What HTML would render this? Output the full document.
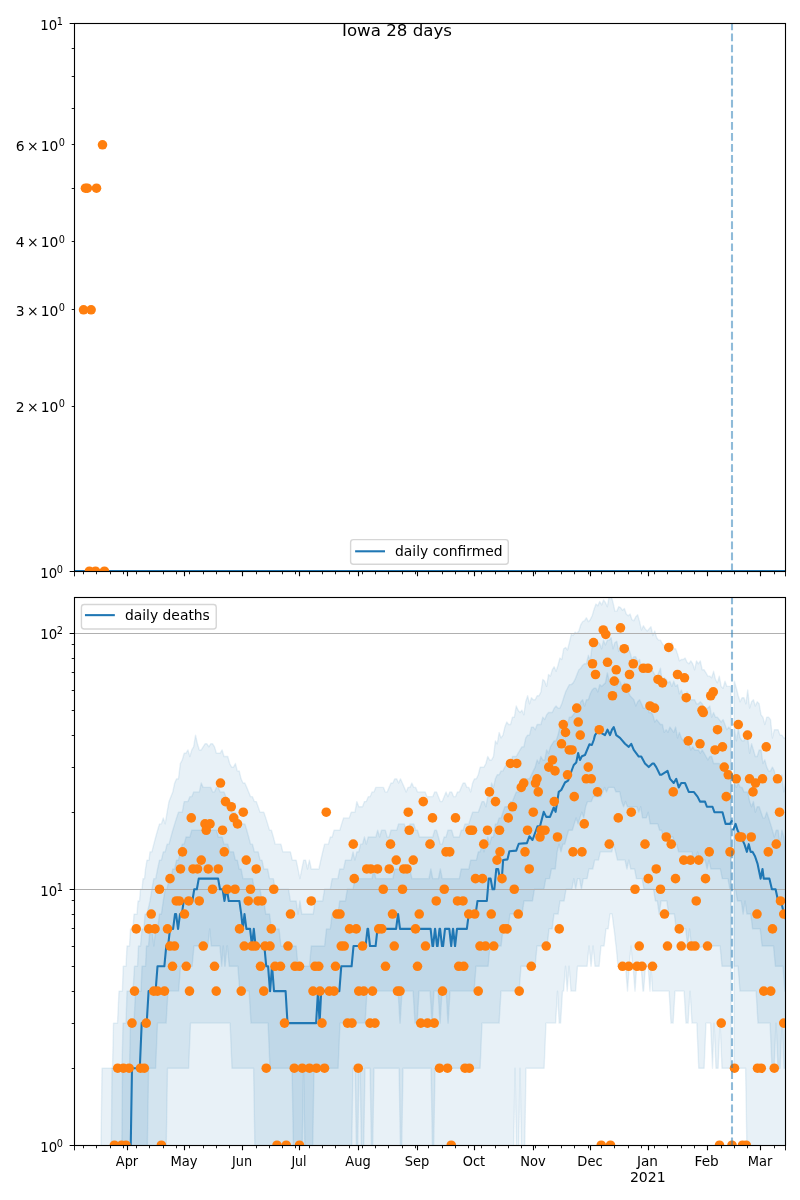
<!DOCTYPE html>
<html lang="en"><head><meta charset="utf-8"><title>Iowa 28 days</title>
<style>html,body{margin:0;padding:0;background:#fff}svg{display:block}text{font-family:"DejaVu Sans", "Liberation Sans", sans-serif;fill:#000}</style></head><body>
<svg width="800" height="1200" viewBox="0 0 800 1200">
<rect width="800" height="1200" fill="#fff"/>
<defs><clipPath id="c1"><rect x="74.5" y="23.25" width="711" height="548"/></clipPath><clipPath id="c2"><rect x="74.5" y="597.25" width="711" height="548"/></clipPath></defs>
<g clip-path="url(#c1)">
<path d="M74.5 571H785.5" stroke="#1f77b4" stroke-width="2.08" fill="none"/>
<circle cx="83.55" cy="309.79" r="4.8" fill="#ff7f0e"/>
<circle cx="91.1" cy="309.79" r="4.8" fill="#ff7f0e"/>
<circle cx="85.45" cy="188.21" r="4.8" fill="#ff7f0e"/>
<circle cx="87.35" cy="188.21" r="4.8" fill="#ff7f0e"/>
<circle cx="96.5" cy="188.21" r="4.8" fill="#ff7f0e"/>
<circle cx="102.5" cy="144.82" r="4.8" fill="#ff7f0e"/>
<circle cx="89.4" cy="571.25" r="4.8" fill="#ff7f0e"/>
<circle cx="95.5" cy="571.25" r="4.8" fill="#ff7f0e"/>
<circle cx="104.4" cy="571.25" r="4.8" fill="#ff7f0e"/>
<path d="M732 571.25V23.25" stroke="#1f77b4" stroke-opacity="0.5" stroke-width="2.08" stroke-dasharray="7.71 3.33" fill="none"/>
</g>
<g clip-path="url(#c2)">
<path d="M100.5 1185.2L102 1068.2L112.5 1068.2L113.5 1023.1L117.5 1023.1L119 991.1L122.4 991.1L123.2 966.3L126 966.3L127 946L129.5 946L130.5 928.9L133 928.9L134 914.1L137 914.1L138 901L139.5 901L140.5 889.2L142 889.2L143 878.7L144.5 878.7L145.5 869L147 860.1L149 860.1L150 851.84L151.9 851.84L153.8 844.17L155.69 837L157.59 830.26L159.49 823.9L161.39 823.9L163.28 817.89L165.18 823.9L167.08 812.19L168.98 801.59L170.87 796.65L172.77 791.92L174.67 783.02L176.57 778.82L178.46 778.82L180.36 763.46L182.26 759.93L184.16 753.19L186.05 753.19L187.95 749.97L189.85 756.51L191.75 749.97L193.64 746.84L195.54 735.12L197.44 743.79L199.34 749.97L201.24 749.97L203.13 746.84L205.03 743.79L206.93 743.79L208.83 746.84L210.72 743.79L212.62 743.79L214.52 746.84L216.42 753.19L218.31 753.19L220.21 753.19L222.11 749.97L224.01 756.51L225.9 756.51L227.8 756.51L229.7 763.46L231.6 767.11L233.49 767.11L235.39 763.46L237.29 770.88L239.19 770.88L241.08 778.82L242.98 783.02L244.88 783.02L246.78 787.38L248.68 791.92L250.57 796.65L252.47 796.65L254.37 801.59L256.27 801.59L258.16 806.76L260.06 812.19L261.96 812.19L263.86 812.19L265.75 817.89L267.65 823.9L269.55 830.26L271.45 830.26L273.34 837L275.24 844.17L277.14 844.17L279.04 844.17L280.93 844.17L282.83 851.84L284.73 851.84L286.63 851.84L288.52 851.84L290.42 851.84L292.32 860.08L294.22 860.08L296.12 860.08L298.01 868.98L299.91 878.65L301.81 868.98L303.71 860.08L305.6 860.08L307.5 868.98L309.4 860.08L311.3 868.98L313.19 868.98L315.09 868.98L316.99 868.98L318.89 868.98L320.78 860.08L322.68 851.84L324.58 844.17L326.48 844.17L328.37 844.17L330.27 837L332.17 837L334.07 830.26L335.96 830.26L337.86 830.26L339.76 830.26L341.66 823.9L343.56 817.89L345.45 817.89L347.35 817.89L349.25 817.89L351.15 812.19L353.04 812.19L354.94 812.19L356.84 801.59L358.74 806.76L360.63 806.76L362.53 806.76L364.43 801.59L366.33 801.59L368.22 796.65L370.12 796.65L372.02 791.92L373.92 791.92L375.81 787.38L377.71 787.38L379.61 787.38L381.51 787.38L383.4 787.38L385.3 791.92L387.2 791.92L389.1 787.38L391 783.02L392.89 783.02L394.79 778.82L396.69 778.82L398.59 783.02L400.48 778.82L402.38 783.02L404.28 787.38L406.18 791.92L408.07 787.38L409.97 787.38L411.87 783.02L413.77 787.38L415.66 787.38L417.56 791.92L419.46 791.92L421.36 791.92L423.25 791.92L425.15 791.92L427.05 796.65L428.95 796.65L430.84 796.65L432.74 796.65L434.64 791.92L436.54 791.92L438.44 796.65L440.33 801.59L442.23 801.59L444.13 796.65L446.03 791.92L447.92 796.65L449.82 791.92L451.72 791.92L453.62 796.65L455.51 796.65L457.41 791.92L459.31 791.92L461.21 787.38L463.1 783.02L465 783.02L466.9 787.38L468.8 787.38L470.69 791.92L472.59 783.02L474.49 778.82L476.39 778.82L478.28 774.78L480.18 767.11L482.08 767.11L483.98 767.11L485.88 763.46L487.77 756.51L489.67 759.93L491.57 759.93L493.47 756.51L495.36 740.83L497.26 743.79L499.16 732.38L501.06 737.94L502.95 735.12L504.85 727.08L506.75 722.03L508.65 724.53L510.54 724.53L512.44 717.19L514.34 717.19L516.24 705.95L518.13 710.31L520.03 712.56L521.93 710.31L523.83 714.85L525.72 701.76L527.62 695.75L529.52 703.84L531.42 697.71L533.32 699.72L535.21 699.72L537.11 695.75L539.01 695.75L540.91 691.91L542.8 679.45L544.7 681.14L546.6 686.4L548.5 674.5L550.39 676.13L552.29 669.77L554.19 666.73L556.09 671.33L557.98 665.23L559.88 658.06L561.78 659.46L563.68 648.73L565.57 647.46L567.47 650.02L569.37 642.52L571.27 634.37L573.16 635.5L575.06 632.14L576.96 633.25L578.86 631.05L580.76 624.69L582.65 621.65L584.55 620.65L586.45 617.71L588.35 621.65L590.24 619.66L592.14 615.79L594.04 609.33L595.94 604.08L597.83 605.8L599.73 601.54L601.63 604.94L603.53 599.88L605.42 602.38L607.32 606.68L609.22 595.84L611.12 595.84L613.01 602.38L614.91 611.14L616.81 611.14L618.71 606.68L620.6 607.56L622.5 610.23L624.4 608.44L626.3 613.91L628.2 615.79L630.09 613.91L631.99 619.66L633.89 620.65L635.79 616.75L637.68 614.85L639.58 621.65L641.48 629.96L643.38 625.73L645.27 628.89L647.17 631.05L649.07 628.89L650.97 626.77L652.86 635.5L654.76 631.05L656.66 637.79L658.56 640.13L660.45 640.13L662.35 643.74L664.25 646.21L666.15 650.02L668.04 648.73L669.94 646.21L671.84 642.52L673.74 648.73L675.64 648.73L677.53 653.97L679.43 660.87L681.33 659.46L683.23 659.46L685.12 658.06L687.02 662.31L688.92 663.76L690.82 660.87L692.71 663.76L694.61 669.77L696.51 660.87L698.41 663.76L700.3 660.87L702.2 669.77L704.1 669.77L706 672.9L707.89 676.13L709.79 676.13L711.69 677.77L713.59 671.33L715.48 679.45L717.38 682.87L719.28 676.13L721.18 686.4L723.08 688.21L724.97 681.14L726.87 686.4L728.77 686.4L730.67 686.4L731 687.04L731 1068.19L722 1068.19L720.1 1023.11L720 1023.11L718.1 1068.19L716 1068.19L714.1 1023.11L714 1023.11L712.5 1068.19L710.6 1023.11L706 1023.11L704.1 1068.19L698.75 1068.19L696.85 1023.11L692 1023.11L690.1 991.12L690 991.12L688.1 1023.11L686 1023.11L684.1 991.12L675 991.12L673.1 1023.11L671 1023.11L669.1 991.12L652.5 991.12L651 966.31L650 991.12L648.1 966.31L645.5 966.31L643.6 991.12L643 991.12L641.1 966.31L636.7 966.31L635 991.12L633.1 966.31L632.7 966.31L631 946.04L629.2 966.31L627.5 991.12L625.6 966.31L618 966.31L616.1 946.04L616 946.04L614.1 928.9L614 928.9L612.1 914.06L610 914.06L608.1 928.9L606 928.9L604.1 946.04L601 946.04L599.1 966.31L595 966.31L593.1 946.04L593 946.04L591.1 966.31L591 966.31L589.1 946.04L589 946.04L587.1 966.31L577.5 966.31L575.6 991.12L571 991.12L569.1 966.31L569 966.31L567.2 991.12L565.5 966.31L563.6 991.12L562.5 991.12L560.6 1023.11L559.2 1023.11L557.5 991.12L555.6 1023.11L546 1023.11L544.1 1068.19L526 1068.19L524.1 1185.25L522 1185.25L520.1 1068.19L520 1068.19L518.1 1185.25L517 1185.25L515.1 1068.19L515 1068.19L513.1 1185.25L100.5 1185.25Z" fill="#1f77b4" fill-opacity="0.1" stroke="#1f77b4" stroke-opacity="0.1" stroke-width="1.39" stroke-linejoin="round"/>
<path d="M734.2 682.37L734.46 681.14L736.36 688.21L738.26 695.75L740.15 701.76L742.05 697.71L743.95 697.71L745.85 703.84L747.74 690.04L749.64 708.11L751.54 701.76L753.44 699.72L755.33 705.95L757.23 701.76L759.13 703.84L761.03 714.85L762.92 717.19L764.82 724.53L766.72 717.19L768.62 717.19L770.52 719.58L772.41 737.94L774.31 729.7L776.21 729.7L778.11 729.7L780 735.12L781.9 735.12L783.8 737.94L785.7 737.94L786 731L787.5 731L787.5 1185.25L784.1 1185.25L747.5 1185.25L745.6 1068.19L734.2 1068.19Z" fill="#1f77b4" fill-opacity="0.1" stroke="#1f77b4" stroke-opacity="0.1" stroke-width="1.39" stroke-linejoin="round"/>
<path d="M111 1185.2L112 1068.2L122 1068.2L123 1023.1L126 1023.1L127 991.1L133 991.1L134.5 966.3L137.5 966.3L138.5 946L140.5 946L142 928.9L144 928.9L145 914.1L147 914.1L150 900.96L151.9 889.25L153.8 878.65L155.69 878.65L157.59 868.98L159.49 860.08L161.39 860.08L163.28 851.84L165.18 851.84L167.08 844.17L168.98 844.17L170.87 837L172.77 830.26L174.67 823.9L176.57 817.89L178.46 812.19L180.36 812.19L182.26 812.19L184.16 801.59L186.05 801.59L187.95 801.59L189.85 796.65L191.75 796.65L193.64 791.92L195.54 791.92L197.44 791.92L199.34 791.92L201.24 783.02L203.13 787.38L205.03 787.38L206.93 787.38L208.83 787.38L210.72 787.38L212.62 791.92L214.52 791.92L216.42 787.38L218.31 787.38L220.21 791.92L222.11 791.92L224.01 791.92L225.9 796.65L227.8 801.59L229.7 801.59L231.6 812.19L233.49 812.19L235.39 812.19L237.29 817.89L239.19 823.9L241.08 823.9L242.98 823.9L244.88 823.9L246.78 830.26L248.68 837L250.57 844.17L252.47 844.17L254.37 851.84L256.27 851.84L258.16 851.84L260.06 860.08L261.96 860.08L263.86 868.98L265.75 868.98L267.65 868.98L269.55 878.65L271.45 878.65L273.34 878.65L275.24 889.25L277.14 889.25L279.04 889.25L280.93 889.25L282.83 889.25L284.73 889.25L286.63 889.25L288.52 889.25L290.42 900.96L292.32 900.96L294.22 900.96L296.12 900.96L298.01 914.06L299.91 900.96L301.81 914.06L303.71 914.06L305.6 914.06L307.5 914.06L309.4 914.06L311.3 914.06L313.19 914.06L315.09 900.96L316.99 900.96L318.89 900.96L320.78 900.96L322.68 900.96L324.58 889.25L326.48 889.25L328.37 889.25L330.27 889.25L332.17 878.65L334.07 878.65L335.96 878.65L337.86 878.65L339.76 868.98L341.66 868.98L343.56 868.98L345.45 860.08L347.35 860.08L349.25 860.08L351.15 860.08L353.04 851.84L354.94 860.08L356.84 851.84L358.74 851.84L360.63 844.17L362.53 844.17L364.43 837L366.33 844.17L368.22 837L370.12 837L372.02 837L373.92 837L375.81 837L377.71 830.26L379.61 837L381.51 830.26L383.4 830.26L385.3 830.26L387.2 837L389.1 837L391 830.26L392.89 830.26L394.79 830.26L396.69 830.26L398.59 823.9L400.48 823.9L402.38 823.9L404.28 823.9L406.18 830.26L408.07 830.26L409.97 823.9L411.87 823.9L413.77 823.9L415.66 830.26L417.56 830.26L419.46 837L421.36 837L423.25 837L425.15 837L427.05 837L428.95 837L430.84 837L432.74 837L434.64 830.26L436.54 830.26L438.44 837L440.33 844.17L442.23 844.17L444.13 837L446.03 837L447.92 830.26L449.82 830.26L451.72 830.26L453.62 837L455.51 837L457.41 837L459.31 837L461.21 830.26L463.1 830.26L465 823.9L466.9 823.9L468.8 823.9L470.69 817.89L472.59 812.19L474.49 812.19L476.39 812.19L478.28 812.19L480.18 806.76L482.08 801.59L483.98 801.59L485.88 806.76L487.77 796.65L489.67 796.65L491.57 783.02L493.47 787.38L495.36 778.82L497.26 774.78L499.16 774.78L501.06 770.88L502.95 770.88L504.85 767.11L506.75 763.46L508.65 759.93L510.54 767.11L512.44 756.51L514.34 756.51L516.24 756.51L518.13 753.19L520.03 749.97L521.93 746.84L523.83 746.84L525.72 737.94L527.62 735.12L529.52 735.12L531.42 727.08L533.32 727.08L535.21 729.7L537.11 724.53L539.01 724.53L540.91 724.53L542.8 717.19L544.7 719.58L546.6 714.85L548.5 712.56L550.39 712.56L552.29 712.56L554.19 708.11L556.09 705.95L557.98 708.11L559.88 708.11L561.78 703.84L563.68 697.71L565.57 691.91L567.47 688.21L569.37 684.62L571.27 684.62L573.16 682.87L575.06 679.45L576.96 674.5L578.86 669.77L580.76 668.24L582.65 665.23L584.55 663.76L586.45 663.76L588.35 655.31L590.24 660.87L592.14 646.21L594.04 644.96L595.94 643.74L597.83 642.52L599.73 643.74L601.63 648.73L603.53 640.13L605.42 644.96L607.32 640.13L609.22 640.13L611.12 637.79L613.01 648.73L614.91 642.52L616.81 641.32L618.71 651.32L620.6 646.21L622.5 648.73L624.4 648.73L626.3 647.46L628.2 647.46L630.09 652.63L631.99 659.46L633.89 656.68L635.79 656.68L637.68 662.31L639.58 659.46L641.48 668.24L643.38 665.23L645.27 663.76L647.17 668.24L649.07 669.77L650.97 668.24L652.86 671.33L654.76 674.5L656.66 677.77L658.56 672.9L660.45 668.24L662.35 682.87L664.25 677.77L666.15 679.45L668.04 682.87L669.94 681.14L671.84 686.4L673.74 681.14L675.64 686.4L677.53 684.62L679.43 693.81L681.33 690.04L683.23 695.75L685.12 697.71L687.02 691.91L688.92 695.75L690.82 699.72L692.71 699.72L694.61 699.72L696.51 703.84L698.41 703.84L700.3 701.76L702.2 703.84L704.1 708.11L706 708.11L707.89 708.11L709.79 705.95L711.69 717.19L713.59 712.56L715.48 717.19L717.38 717.19L719.28 719.58L721.18 722.03L723.08 719.58L724.97 724.53L726.87 729.7L728.77 727.08L730.67 729.7L731 729.7L731 966.31L722 966.31L720.1 946.04L704 946.04L698 948L697.14 946.04L695.24 946.04L693.34 946.04L691.45 946.04L689.55 928.9L687.65 946.04L685.75 928.9L683.86 928.9L681.96 928.9L680.06 928.9L678.16 928.9L676.27 928.9L674.37 914.06L672.47 914.06L670.57 914.06L668.68 914.06L666.78 900.96L664.88 900.96L662.98 900.96L661.08 900.96L659.19 914.06L657.29 900.96L655.39 900.96L653.49 889.25L651.6 889.25L649.7 889.25L647.8 889.25L645.9 889.25L644.01 889.25L642.11 878.65L640.21 878.65L638.31 878.65L636.42 878.65L634.52 868.98L632.62 868.98L630.72 868.98L628.83 860.08L626.93 868.98L625.03 860.08L623.13 860.08L621.24 860.08L619.34 860.08L617.44 860.08L615.54 851.84L613.64 844.17L611.75 851.84L609.85 851.84L607.95 851.84L606.05 851.84L604.16 851.84L602.26 851.84L600.36 851.84L598.46 860.08L596.57 860.08L594.67 860.08L592.77 868.98L590.87 868.98L588.98 868.98L587.08 878.65L585.18 878.65L583.28 878.65L581.39 889.25L579.49 878.65L577.59 878.65L575.69 889.25L573.8 878.65L571.9 889.25L570 889.25L568.1 889.25L566 889.25L564.1 900.96L560 900.96L558.1 914.06L554 914.06L552.1 928.9L549 928.9L547.1 946.04L537 946.04L535.1 966.31L521 966.31L519.1 991.12L501 991.12L499.1 1023.11L482 1023.11L480.1 1068.19L435 1068.19L433.1 1185.25L433 1185.25L431.1 1068.19L403 1068.19L401.1 1185.25L401 1185.25L399.1 1068.19L374 1068.19L372.1 1185.25L372 1185.25L370.1 1068.19L365 1068.19L363.1 1185.25L362 1185.25L360.1 1068.19L359 1068.19L357.1 1185.25L357 1185.25L355.1 1068.19L353 1068.19L351.1 1185.25L255.5 1185.25L253.6 1068.19L232 1068.19L230.1 1023.11L190.5 1023.11L188.6 1068.19L167.5 1068.19L165.6 1185.25L111 1185.25Z" fill="#1f77b4" fill-opacity="0.1" stroke="#1f77b4" stroke-opacity="0.1" stroke-width="1.39" stroke-linejoin="round"/>
<path d="M734.2 729.7L734.46 729.7L736.36 740.83L738.26 729.7L740.15 737.94L742.05 740.83L743.95 740.83L745.85 735.12L747.74 737.94L749.64 753.19L751.54 743.79L753.44 749.97L755.33 756.51L757.23 756.51L759.13 749.97L761.03 749.97L762.92 763.46L764.82 759.93L766.72 767.11L768.62 770.88L770.52 770.88L772.41 767.11L774.31 770.88L776.21 783.02L778.11 778.82L780 778.82L781.9 774.78L783.8 791.92L785.7 783.02L786 790L787.5 790L787.5 1068.19L786 1068.19L784 1068.19L782.1 1023.11L782 1023.11L780.1 1068.19L778 1068.19L776.1 1023.11L776 1023.11L774.1 1068.19L772 1068.19L770.1 1023.11L758 1023.11L756.1 991.12L740 991.12L738.1 966.31L734.2 966.31Z" fill="#1f77b4" fill-opacity="0.1" stroke="#1f77b4" stroke-opacity="0.1" stroke-width="1.39" stroke-linejoin="round"/>
<path d="M121.5 1185.2L122.5 1068.2L129.5 1068.2L130.5 1023.1L134 1023.1L135.5 991.1L141 991.1L142 966.3L145.5 966.3L146.5 946L148.5 946L150 928.9L151.9 928.9L153.8 946.04L155.69 928.9L157.59 928.9L159.49 914.06L161.39 914.06L163.28 900.96L165.18 889.25L167.08 889.25L168.98 878.65L170.87 878.65L172.77 868.98L174.67 868.98L176.57 860.08L178.46 860.08L180.36 851.84L182.26 844.17L184.16 844.17L186.05 837L187.95 837L189.85 837L191.75 830.26L193.64 830.26L195.54 830.26L197.44 830.26L199.34 830.26L201.24 830.26L203.13 830.26L205.03 830.26L206.93 830.26L208.83 830.26L210.72 830.26L212.62 830.26L214.52 830.26L216.42 830.26L218.31 837L220.21 837L222.11 837L224.01 844.17L225.9 844.17L227.8 844.17L229.7 851.84L231.6 851.84L233.49 851.84L235.39 860.08L237.29 860.08L239.19 868.98L241.08 868.98L242.98 878.65L244.88 878.65L246.78 878.65L248.68 878.65L250.57 878.65L252.47 878.65L254.37 889.25L256.27 889.25L258.16 889.25L260.06 889.25L261.96 900.96L263.86 900.96L265.75 914.06L267.65 914.06L269.55 914.06L271.45 928.9L273.34 928.9L275.24 928.9L277.14 928.9L279.04 928.9L280.93 946.04L282.83 946.04L284.73 946.04L286.63 946.04L288.52 946.04L290.42 946.04L292.32 946.04L294.22 946.04L296.12 946.04L298.01 966.31L299.91 966.31L301.81 966.31L303.71 966.31L305.6 966.31L307.5 966.31L309.4 966.31L311.3 946.04L313.19 946.04L315.09 946.04L316.99 946.04L318.89 946.04L320.78 946.04L322.68 946.04L324.58 946.04L326.48 928.9L328.37 928.9L330.27 928.9L332.17 914.06L334.07 914.06L335.96 914.06L337.86 914.06L339.76 900.96L341.66 900.96L343.56 900.96L345.45 900.96L347.35 889.25L349.25 889.25L351.15 889.25L353.04 889.25L354.94 878.65L356.84 878.65L358.74 878.65L360.63 878.65L362.53 878.65L364.43 878.65L366.33 878.65L368.22 878.65L370.12 878.65L372.02 878.65L373.92 868.98L375.81 878.65L377.71 878.65L379.61 878.65L381.51 878.65L383.4 878.65L385.3 878.65L387.2 878.65L389.1 878.65L391 878.65L392.89 878.65L394.79 868.98L396.69 868.98L398.59 868.98L400.48 868.98L402.38 868.98L404.28 868.98L406.18 868.98L408.07 868.98L409.97 868.98L411.87 878.65L413.77 878.65L415.66 878.65L417.56 878.65L419.46 878.65L421.36 878.65L423.25 878.65L425.15 878.65L427.05 878.65L428.95 878.65L430.84 868.98L432.74 878.65L434.64 878.65L436.54 878.65L438.44 878.65L440.33 868.98L442.23 878.65L444.13 878.65L446.03 878.65L447.92 878.65L449.82 878.65L451.72 878.65L453.62 878.65L455.51 878.65L457.41 878.65L459.31 878.65L461.21 868.98L463.1 868.98L465 868.98L466.9 868.98L468.8 868.98L470.69 860.08L472.59 860.08L474.49 860.08L476.39 860.08L478.28 851.84L480.18 851.84L482.08 844.17L483.98 851.84L485.88 844.17L487.77 837L489.67 844.17L491.57 837L493.47 837L495.36 823.9L497.26 823.9L499.16 817.89L501.06 817.89L502.95 812.19L504.85 806.76L506.75 806.76L508.65 806.76L510.54 801.59L512.44 801.59L514.34 796.65L516.24 791.92L518.13 791.92L520.03 791.92L521.93 787.38L523.83 787.38L525.72 778.82L527.62 778.82L529.52 778.82L531.42 774.78L533.32 770.88L535.21 767.11L537.11 759.93L539.01 763.46L540.91 756.51L542.8 759.93L544.7 759.93L546.6 749.97L548.5 753.19L550.39 746.84L552.29 743.79L554.19 740.83L556.09 740.83L557.98 735.12L559.88 727.08L561.78 729.7L563.68 727.08L565.57 727.08L567.47 724.53L569.37 717.19L571.27 717.19L573.16 714.85L575.06 712.56L576.96 710.31L578.86 705.95L580.76 701.76L582.65 699.72L584.55 705.95L586.45 699.72L588.35 699.72L590.24 693.81L592.14 690.04L594.04 688.21L595.94 688.21L597.83 691.91L599.73 684.62L601.63 686.4L603.53 684.62L605.42 682.87L607.32 672.9L609.22 681.14L611.12 681.14L613.01 677.77L614.91 681.14L616.81 686.4L618.71 679.45L620.6 682.87L622.5 688.21L624.4 682.87L626.3 686.4L628.2 691.91L630.09 695.75L631.99 697.71L633.89 699.72L635.79 705.95L637.68 701.76L639.58 699.72L641.48 703.84L643.38 708.11L645.27 708.11L647.17 705.95L649.07 712.56L650.97 712.56L652.86 714.85L654.76 722.03L656.66 719.58L658.56 722.03L660.45 724.53L662.35 724.53L664.25 732.38L666.15 729.7L668.04 732.38L669.94 727.08L671.84 729.7L673.74 732.38L675.64 727.08L677.53 737.94L679.43 732.38L681.33 737.94L683.23 740.83L685.12 737.94L687.02 740.83L688.92 743.79L690.82 749.97L692.71 746.84L694.61 749.97L696.51 749.97L698.41 749.97L700.3 753.19L702.2 749.97L704.1 753.19L706 756.51L707.89 759.93L709.79 756.51L711.69 756.51L713.59 763.46L715.48 763.46L717.38 763.46L719.28 763.46L721.18 767.11L723.08 767.11L724.97 770.88L726.87 770.88L728.77 778.82L730.67 774.78L731 775.49L731 889.25L729.85 889.25L727.95 878.65L726.06 878.65L724.16 878.65L722.26 878.65L720.36 868.98L718.46 868.98L716.57 868.98L714.67 868.98L712.77 868.98L710.87 868.98L708.98 860.08L707.08 868.98L705.18 860.08L703.28 860.08L701.39 860.08L699.49 860.08L697.59 851.84L695.69 860.08L693.8 860.08L691.9 851.84L690 851.84L688.1 851.84L686.21 851.84L684.31 851.84L682.41 851.84L680.51 851.84L678.62 851.84L676.72 844.17L674.82 844.17L672.92 837L671.02 837L669.13 837L667.23 837L665.33 837L663.43 837L661.54 830.26L659.64 830.26L657.74 823.9L655.84 823.9L653.95 823.9L652.05 823.9L650.15 823.9L648.25 812.19L646.36 817.89L644.46 817.89L642.56 817.89L640.66 806.76L638.77 812.19L636.87 806.76L634.97 806.76L633.07 806.76L631.18 806.76L629.28 806.76L627.38 806.76L625.48 801.59L623.58 806.76L621.69 801.59L619.79 791.92L617.89 791.92L615.99 791.92L614.1 787.38L612.2 787.38L610.3 787.38L608.4 787.38L606.51 791.92L604.61 787.38L602.71 791.92L600.81 796.65L598.92 796.65L597.02 796.65L595.12 796.65L593.22 796.65L591.33 801.59L589.43 801.59L587.53 801.59L585.63 806.76L583.74 817.89L581.84 812.19L579.94 817.89L578.04 823.9L576.14 817.89L574.25 823.9L572.35 830.26L570.45 830.26L568.55 830.26L566.66 837L564.76 844.17L562.86 844.17L560.96 851.84L559.07 844.17L557.17 851.84L555.27 868.98L553.37 868.98L551.48 868.98L549.58 878.65L547.68 878.65L545.78 878.65L543.89 889.25L541.99 889.25L540.09 889.25L538.19 889.25L536.3 889.25L534.4 889.25L532.5 900.96L530.6 900.96L524 900.96L522.1 914.06L510 914.06L508.1 928.9L503 928.9L501.1 946.04L490 946.04L488.1 966.31L476 966.31L474.1 991.12L450 991.12L448.1 1023.11L448 1023.11L446.1 991.12L442 991.12L440.1 1023.11L440 1023.11L438.1 991.12L434 991.12L432.1 1023.11L432 1023.11L430.1 991.12L419 991.12L417.1 1023.11L415 1023.11L413.1 991.12L402 991.12L400.1 1023.11L400 1023.11L398.1 991.12L367 991.12L365.1 1023.11L340 1023.11L338.1 1068.19L314 1068.19L312.1 1185.25L305.5 1185.25L303.6 1068.19L303.5 1068.19L301.6 1185.25L294 1185.25L292.1 1068.19L270 1068.19L268.1 1023.11L251 1023.11L249.1 991.12L239.75 991.12L237.85 966.31L229.25 966.31L227.35 946.04L227 946.04L225.1 966.31L224.75 966.31L223.25 946.04L221.75 966.31L219.85 946.04L211.25 946.04L209.75 928.9L207.85 946.04L194 946.04L192.1 966.31L180.5 966.31L178.6 991.12L168 991.12L166.1 1023.11L157.5 1023.11L155.6 1068.19L148.6 1068.19L146.7 1185.25L121.5 1185.25Z" fill="#1f77b4" fill-opacity="0.1" stroke="#1f77b4" stroke-opacity="0.1" stroke-width="1.39" stroke-linejoin="round"/>
<path d="M734.2 782.44L734.46 783.02L736.36 787.38L738.26 783.02L740.15 787.38L742.05 787.38L743.95 791.92L745.85 791.92L747.74 791.92L749.64 801.59L751.54 806.76L753.44 801.59L755.33 812.19L757.23 806.76L759.13 806.76L761.03 812.19L762.92 817.89L764.82 817.89L766.72 812.19L768.62 817.89L770.52 823.9L772.41 830.26L774.31 837L776.21 830.26L778.11 830.26L780 844.17L781.9 830.26L783.8 837L785.7 851.84L786 844L787.5 844L787.5 982L786 982L784.88 991.12L782.98 966.31L781.09 966.31L779.19 966.31L777.29 966.31L775.39 966.31L773.5 946.04L771.6 946.04L769.7 946.04L767.8 946.04L765.9 946.04L764.01 946.04L762.11 946.04L760.21 928.9L758.31 928.9L756.42 928.9L754.52 928.9L752.62 928.9L750.72 914.06L748.83 914.06L746.93 914.06L745.03 900.96L743.13 914.06L741.24 900.96L739.34 900.96L737.44 900.96L735.54 889.25L734.2 889.25Z" fill="#1f77b4" fill-opacity="0.1" stroke="#1f77b4" stroke-opacity="0.1" stroke-width="1.39" stroke-linejoin="round"/>
<path d="M74.5 889.5H785.5" stroke="#b0b0b0" stroke-width="1.11" fill="none"/>
<path d="M74.5 633.5H785.5" stroke="#b0b0b0" stroke-width="1.11" fill="none"/>
<path d="M74.5 1185.25L130.1 1185.25L132 1068.19L139.8 1068.19L141.7 1023.11L146.7 1023.11L148.6 991.12L155.6 991.12L157.5 966.31L164.35 966.31L166.25 946.04L168.1 946.04L170 928.9L173.1 928.9L175 914.06L176.1 914.06L178 928.9L178.1 928.9L180 914.06L181.85 914.06L183.75 900.96L192.35 900.96L194.25 889.25L196.85 889.25L198.75 878.65L218.1 878.65L220 889.25L222.6 889.25L224.5 900.96L226.3 889.25L226.85 889.25L228.75 900.96L239.35 900.96L241.25 914.06L242.8 928.9L244.5 914.06L244.5 914.06L246.4 928.9L250.1 928.9L252 946.04L253.8 928.9L255.6 946.04L264.35 946.04L266.25 966.31L268.1 966.31L270 991.12L270.1 991.12L272 966.31L272.1 966.31L274 991.12L285.6 991.12L287.5 1023.11L316.1 1023.11L318 991.12L319.6 1023.11L321.2 991.12L339.35 991.12L341.25 966.31L351.6 966.31L353.5 946.04L365.6 946.04L367.5 928.9L368.1 928.9L370 946.04L375.6 946.04L377.5 928.9L396.1 928.9L398 914.06L398.1 914.06L400 928.9L430.6 928.9L432.5 946.04L433.1 946.04L435 928.9L435.1 928.9L437 946.04L437.6 946.04L439.5 928.9L440.1 928.9L442 946.04L443.1 946.04L445 928.9L449.3 928.9L451.2 946.04L453 928.9L453.1 928.9L455 946.04L455.1 946.04L457 928.9L466.85 928.9L468.75 914.06L475.6 914.06L477.5 900.96L486.85 900.96L488.75 878.65L490.6 878.65L492.5 889.25L494.35 889.25L496.25 868.98L498.1 868.98L500 878.65L501.85 878.65L503.12 860L507.5 859.38L509.38 851.25L516.25 850.62L518.75 843.75L526.88 843.12L529.38 836.25L532.5 840L537.5 826.25L540 826.25L543.75 811.88L546.25 816.88L550 816.88L553.75 807.5L555.62 811.88L558.75 791.88L561.25 790L565 782.5L568.12 780.62L571.88 770L573.75 765L576.25 762.5L578.12 753.12L580 760L581.88 756.25L585 755L589.38 744.38L591.88 745L593.75 740L595 735.12L599.25 729.7L600 732.38L605 735.12L607.5 729.7L610 735.12L612 729.7L613.75 727.08L616.25 735.12L620 737.94L625 743.79L628.75 746.84L631.25 743.79L633.75 749.97L638.75 756.51L641.25 756.51L645 763.46L648.75 767.11L652.5 763.46L653.75 763.46L656.25 767.11L660 774.78L661.25 774.78L667.5 770.88L670 778.82L673.75 783.02L676.25 778.82L678.75 787.38L681.25 783.02L685 783.02L688.75 791.92L693.75 791.92L697.5 796.65L700 801.59L705 801.59L706.9 806.76L712.5 806.76L714.4 812.19L722.5 812.19L725.6 823.9L730 823.9L732.25 820.25M733.1 830.26L735.6 823.9L737.5 830.26L741 837L744.4 844.17L746.9 851.84L748.75 844.17L750.6 851.84L752.5 851.84L755 856.21L757.5 863.56L760.6 878.65L762.5 868.98L763.75 878.65L769.4 878.65L771.9 889.25L775.6 889.25L778.1 900.96L781 900.96L784 914.06L786 919.76" stroke="#1f77b4" stroke-width="2.08" fill="none" stroke-linejoin="round"/>
<circle cx="114.4" cy="1145.25" r="4.8" fill="#ff7f0e"/>
<circle cx="117.7" cy="1068.19" r="4.8" fill="#ff7f0e"/>
<circle cx="121.6" cy="1145.25" r="4.8" fill="#ff7f0e"/>
<circle cx="123.4" cy="1068.19" r="4.8" fill="#ff7f0e"/>
<circle cx="126" cy="1145.25" r="4.8" fill="#ff7f0e"/>
<circle cx="129.1" cy="1068.19" r="4.8" fill="#ff7f0e"/>
<circle cx="132" cy="1023.11" r="4.8" fill="#ff7f0e"/>
<circle cx="134.5" cy="991.12" r="4.8" fill="#ff7f0e"/>
<circle cx="136.25" cy="928.9" r="4.8" fill="#ff7f0e"/>
<circle cx="140.5" cy="1068.19" r="4.8" fill="#ff7f0e"/>
<circle cx="144.3" cy="1068.19" r="4.8" fill="#ff7f0e"/>
<circle cx="146.25" cy="1023.11" r="4.8" fill="#ff7f0e"/>
<circle cx="148.75" cy="928.9" r="4.8" fill="#ff7f0e"/>
<circle cx="151.25" cy="914.06" r="4.8" fill="#ff7f0e"/>
<circle cx="153.75" cy="991.12" r="4.8" fill="#ff7f0e"/>
<circle cx="155" cy="928.9" r="4.8" fill="#ff7f0e"/>
<circle cx="157.5" cy="991.12" r="4.8" fill="#ff7f0e"/>
<circle cx="159.5" cy="889.25" r="4.8" fill="#ff7f0e"/>
<circle cx="161.4" cy="1145.25" r="4.8" fill="#ff7f0e"/>
<circle cx="164.5" cy="991.12" r="4.8" fill="#ff7f0e"/>
<circle cx="167.5" cy="928.9" r="4.8" fill="#ff7f0e"/>
<circle cx="170" cy="878.65" r="4.8" fill="#ff7f0e"/>
<circle cx="170" cy="946.04" r="4.8" fill="#ff7f0e"/>
<circle cx="172.5" cy="966.31" r="4.8" fill="#ff7f0e"/>
<circle cx="174.5" cy="946.04" r="4.8" fill="#ff7f0e"/>
<circle cx="176.25" cy="900.96" r="4.8" fill="#ff7f0e"/>
<circle cx="179.25" cy="900.96" r="4.8" fill="#ff7f0e"/>
<circle cx="180.5" cy="868.98" r="4.8" fill="#ff7f0e"/>
<circle cx="182.5" cy="851.84" r="4.8" fill="#ff7f0e"/>
<circle cx="184.5" cy="914.06" r="4.8" fill="#ff7f0e"/>
<circle cx="186.25" cy="966.31" r="4.8" fill="#ff7f0e"/>
<circle cx="188.75" cy="900.96" r="4.8" fill="#ff7f0e"/>
<circle cx="189.5" cy="991.12" r="4.8" fill="#ff7f0e"/>
<circle cx="191.25" cy="817.89" r="4.8" fill="#ff7f0e"/>
<circle cx="193" cy="868.98" r="4.8" fill="#ff7f0e"/>
<circle cx="197.5" cy="868.98" r="4.8" fill="#ff7f0e"/>
<circle cx="199.25" cy="900.96" r="4.8" fill="#ff7f0e"/>
<circle cx="201.25" cy="860.08" r="4.8" fill="#ff7f0e"/>
<circle cx="203.25" cy="946.04" r="4.8" fill="#ff7f0e"/>
<circle cx="205" cy="823.9" r="4.8" fill="#ff7f0e"/>
<circle cx="206.25" cy="830.26" r="4.8" fill="#ff7f0e"/>
<circle cx="208.25" cy="868.98" r="4.8" fill="#ff7f0e"/>
<circle cx="210" cy="823.9" r="4.8" fill="#ff7f0e"/>
<circle cx="212.5" cy="889.25" r="4.8" fill="#ff7f0e"/>
<circle cx="214.5" cy="966.31" r="4.8" fill="#ff7f0e"/>
<circle cx="216.25" cy="991.12" r="4.8" fill="#ff7f0e"/>
<circle cx="218.25" cy="868.98" r="4.8" fill="#ff7f0e"/>
<circle cx="220.5" cy="783.02" r="4.8" fill="#ff7f0e"/>
<circle cx="222.5" cy="830.26" r="4.8" fill="#ff7f0e"/>
<circle cx="224.25" cy="851.84" r="4.8" fill="#ff7f0e"/>
<circle cx="225.5" cy="801.59" r="4.8" fill="#ff7f0e"/>
<circle cx="227" cy="889.25" r="4.8" fill="#ff7f0e"/>
<circle cx="231.25" cy="806.76" r="4.8" fill="#ff7f0e"/>
<circle cx="233.75" cy="817.89" r="4.8" fill="#ff7f0e"/>
<circle cx="235" cy="889.25" r="4.8" fill="#ff7f0e"/>
<circle cx="237.5" cy="823.9" r="4.8" fill="#ff7f0e"/>
<circle cx="239.5" cy="928.9" r="4.8" fill="#ff7f0e"/>
<circle cx="241.25" cy="991.12" r="4.8" fill="#ff7f0e"/>
<circle cx="243.25" cy="812.19" r="4.8" fill="#ff7f0e"/>
<circle cx="244.25" cy="946.04" r="4.8" fill="#ff7f0e"/>
<circle cx="246.25" cy="860.08" r="4.8" fill="#ff7f0e"/>
<circle cx="248.25" cy="900.96" r="4.8" fill="#ff7f0e"/>
<circle cx="250.5" cy="889.25" r="4.8" fill="#ff7f0e"/>
<circle cx="252" cy="946.04" r="4.8" fill="#ff7f0e"/>
<circle cx="255.5" cy="946.04" r="4.8" fill="#ff7f0e"/>
<circle cx="256.25" cy="868.98" r="4.8" fill="#ff7f0e"/>
<circle cx="258" cy="900.96" r="4.8" fill="#ff7f0e"/>
<circle cx="260.5" cy="966.31" r="4.8" fill="#ff7f0e"/>
<circle cx="262" cy="900.96" r="4.8" fill="#ff7f0e"/>
<circle cx="263.75" cy="991.12" r="4.8" fill="#ff7f0e"/>
<circle cx="265" cy="946.04" r="4.8" fill="#ff7f0e"/>
<circle cx="266.25" cy="1068.19" r="4.8" fill="#ff7f0e"/>
<circle cx="270" cy="946.04" r="4.8" fill="#ff7f0e"/>
<circle cx="271.25" cy="928.9" r="4.8" fill="#ff7f0e"/>
<circle cx="273.75" cy="889.25" r="4.8" fill="#ff7f0e"/>
<circle cx="275" cy="966.31" r="4.8" fill="#ff7f0e"/>
<circle cx="277" cy="1145.25" r="4.8" fill="#ff7f0e"/>
<circle cx="280.5" cy="966.31" r="4.8" fill="#ff7f0e"/>
<circle cx="284.5" cy="1023.11" r="4.8" fill="#ff7f0e"/>
<circle cx="286.25" cy="1145.25" r="4.8" fill="#ff7f0e"/>
<circle cx="288" cy="946.04" r="4.8" fill="#ff7f0e"/>
<circle cx="290.5" cy="914.06" r="4.8" fill="#ff7f0e"/>
<circle cx="294.25" cy="1068.19" r="4.8" fill="#ff7f0e"/>
<circle cx="295" cy="966.31" r="4.8" fill="#ff7f0e"/>
<circle cx="299.5" cy="966.31" r="4.8" fill="#ff7f0e"/>
<circle cx="299.5" cy="1145.25" r="4.8" fill="#ff7f0e"/>
<circle cx="302.25" cy="1068.19" r="4.8" fill="#ff7f0e"/>
<circle cx="309.5" cy="1068.19" r="4.8" fill="#ff7f0e"/>
<circle cx="311.25" cy="900.96" r="4.8" fill="#ff7f0e"/>
<circle cx="313" cy="991.12" r="4.8" fill="#ff7f0e"/>
<circle cx="315" cy="966.31" r="4.8" fill="#ff7f0e"/>
<circle cx="316.5" cy="1068.19" r="4.8" fill="#ff7f0e"/>
<circle cx="318.75" cy="966.31" r="4.8" fill="#ff7f0e"/>
<circle cx="320" cy="991.12" r="4.8" fill="#ff7f0e"/>
<circle cx="322" cy="1023.11" r="4.8" fill="#ff7f0e"/>
<circle cx="324.5" cy="1068.19" r="4.8" fill="#ff7f0e"/>
<circle cx="326.25" cy="812.19" r="4.8" fill="#ff7f0e"/>
<circle cx="329.25" cy="991.12" r="4.8" fill="#ff7f0e"/>
<circle cx="334" cy="991.12" r="4.8" fill="#ff7f0e"/>
<circle cx="335.5" cy="966.31" r="4.8" fill="#ff7f0e"/>
<circle cx="337" cy="914.06" r="4.8" fill="#ff7f0e"/>
<circle cx="340" cy="914.06" r="4.8" fill="#ff7f0e"/>
<circle cx="341.25" cy="946.04" r="4.8" fill="#ff7f0e"/>
<circle cx="344.25" cy="946.04" r="4.8" fill="#ff7f0e"/>
<circle cx="347.5" cy="1023.11" r="4.8" fill="#ff7f0e"/>
<circle cx="349.5" cy="928.9" r="4.8" fill="#ff7f0e"/>
<circle cx="352" cy="1023.11" r="4.8" fill="#ff7f0e"/>
<circle cx="353.25" cy="844.17" r="4.8" fill="#ff7f0e"/>
<circle cx="354.25" cy="878.65" r="4.8" fill="#ff7f0e"/>
<circle cx="356.25" cy="928.9" r="4.8" fill="#ff7f0e"/>
<circle cx="358.25" cy="1068.19" r="4.8" fill="#ff7f0e"/>
<circle cx="358.75" cy="991.12" r="4.8" fill="#ff7f0e"/>
<circle cx="362.5" cy="946.04" r="4.8" fill="#ff7f0e"/>
<circle cx="363.75" cy="991.12" r="4.8" fill="#ff7f0e"/>
<circle cx="366.75" cy="868.98" r="4.8" fill="#ff7f0e"/>
<circle cx="370" cy="1023.11" r="4.8" fill="#ff7f0e"/>
<circle cx="370.75" cy="868.98" r="4.8" fill="#ff7f0e"/>
<circle cx="372.5" cy="991.12" r="4.8" fill="#ff7f0e"/>
<circle cx="375" cy="1023.11" r="4.8" fill="#ff7f0e"/>
<circle cx="377.5" cy="868.98" r="4.8" fill="#ff7f0e"/>
<circle cx="378.75" cy="928.9" r="4.8" fill="#ff7f0e"/>
<circle cx="381.75" cy="928.9" r="4.8" fill="#ff7f0e"/>
<circle cx="383.25" cy="889.25" r="4.8" fill="#ff7f0e"/>
<circle cx="385.5" cy="966.31" r="4.8" fill="#ff7f0e"/>
<circle cx="389.25" cy="868.98" r="4.8" fill="#ff7f0e"/>
<circle cx="390.5" cy="844.17" r="4.8" fill="#ff7f0e"/>
<circle cx="392.5" cy="914.06" r="4.8" fill="#ff7f0e"/>
<circle cx="394.25" cy="946.04" r="4.8" fill="#ff7f0e"/>
<circle cx="396.25" cy="860.08" r="4.8" fill="#ff7f0e"/>
<circle cx="397.5" cy="991.12" r="4.8" fill="#ff7f0e"/>
<circle cx="400" cy="991.12" r="4.8" fill="#ff7f0e"/>
<circle cx="402.5" cy="889.25" r="4.8" fill="#ff7f0e"/>
<circle cx="403.75" cy="868.98" r="4.8" fill="#ff7f0e"/>
<circle cx="407" cy="868.98" r="4.8" fill="#ff7f0e"/>
<circle cx="408.25" cy="812.19" r="4.8" fill="#ff7f0e"/>
<circle cx="409.25" cy="830.26" r="4.8" fill="#ff7f0e"/>
<circle cx="413.25" cy="860.08" r="4.8" fill="#ff7f0e"/>
<circle cx="415.5" cy="928.9" r="4.8" fill="#ff7f0e"/>
<circle cx="417.5" cy="966.31" r="4.8" fill="#ff7f0e"/>
<circle cx="419.25" cy="914.06" r="4.8" fill="#ff7f0e"/>
<circle cx="420.75" cy="1023.11" r="4.8" fill="#ff7f0e"/>
<circle cx="423.25" cy="801.59" r="4.8" fill="#ff7f0e"/>
<circle cx="425.5" cy="946.04" r="4.8" fill="#ff7f0e"/>
<circle cx="427.5" cy="1023.11" r="4.8" fill="#ff7f0e"/>
<circle cx="430" cy="844.17" r="4.8" fill="#ff7f0e"/>
<circle cx="432.5" cy="817.89" r="4.8" fill="#ff7f0e"/>
<circle cx="434.25" cy="1023.11" r="4.8" fill="#ff7f0e"/>
<circle cx="436.25" cy="900.96" r="4.8" fill="#ff7f0e"/>
<circle cx="439.5" cy="1068.19" r="4.8" fill="#ff7f0e"/>
<circle cx="442.5" cy="991.12" r="4.8" fill="#ff7f0e"/>
<circle cx="444.25" cy="889.25" r="4.8" fill="#ff7f0e"/>
<circle cx="446" cy="851.84" r="4.8" fill="#ff7f0e"/>
<circle cx="447.5" cy="1068.19" r="4.8" fill="#ff7f0e"/>
<circle cx="449.75" cy="851.84" r="4.8" fill="#ff7f0e"/>
<circle cx="451.25" cy="1145.25" r="4.8" fill="#ff7f0e"/>
<circle cx="455.5" cy="817.89" r="4.8" fill="#ff7f0e"/>
<circle cx="457.5" cy="900.96" r="4.8" fill="#ff7f0e"/>
<circle cx="458.75" cy="966.31" r="4.8" fill="#ff7f0e"/>
<circle cx="463" cy="900.96" r="4.8" fill="#ff7f0e"/>
<circle cx="463.75" cy="966.31" r="4.8" fill="#ff7f0e"/>
<circle cx="465" cy="1068.19" r="4.8" fill="#ff7f0e"/>
<circle cx="468.75" cy="914.06" r="4.8" fill="#ff7f0e"/>
<circle cx="469.25" cy="1068.19" r="4.8" fill="#ff7f0e"/>
<circle cx="470" cy="830.26" r="4.8" fill="#ff7f0e"/>
<circle cx="472.5" cy="830.26" r="4.8" fill="#ff7f0e"/>
<circle cx="474.75" cy="914.06" r="4.8" fill="#ff7f0e"/>
<circle cx="475.5" cy="878.65" r="4.8" fill="#ff7f0e"/>
<circle cx="478.25" cy="991.12" r="4.8" fill="#ff7f0e"/>
<circle cx="480" cy="946.04" r="4.8" fill="#ff7f0e"/>
<circle cx="482.5" cy="878.65" r="4.8" fill="#ff7f0e"/>
<circle cx="483.75" cy="844.17" r="4.8" fill="#ff7f0e"/>
<circle cx="485.5" cy="946.04" r="4.8" fill="#ff7f0e"/>
<circle cx="487.5" cy="830.26" r="4.8" fill="#ff7f0e"/>
<circle cx="489.5" cy="791.92" r="4.8" fill="#ff7f0e"/>
<circle cx="491.25" cy="914.06" r="4.8" fill="#ff7f0e"/>
<circle cx="493.75" cy="946.04" r="4.8" fill="#ff7f0e"/>
<circle cx="495.5" cy="801.59" r="4.8" fill="#ff7f0e"/>
<circle cx="497" cy="860.08" r="4.8" fill="#ff7f0e"/>
<circle cx="499.5" cy="830.26" r="4.8" fill="#ff7f0e"/>
<circle cx="500" cy="851.84" r="4.8" fill="#ff7f0e"/>
<circle cx="502" cy="878.65" r="4.8" fill="#ff7f0e"/>
<circle cx="503.75" cy="928.9" r="4.8" fill="#ff7f0e"/>
<circle cx="507" cy="928.9" r="4.8" fill="#ff7f0e"/>
<circle cx="508.25" cy="817.89" r="4.8" fill="#ff7f0e"/>
<circle cx="510.5" cy="763.46" r="4.8" fill="#ff7f0e"/>
<circle cx="512.5" cy="806.76" r="4.8" fill="#ff7f0e"/>
<circle cx="514.25" cy="889.25" r="4.8" fill="#ff7f0e"/>
<circle cx="516.75" cy="763.46" r="4.8" fill="#ff7f0e"/>
<circle cx="518.25" cy="914.06" r="4.8" fill="#ff7f0e"/>
<circle cx="519.25" cy="991.12" r="4.8" fill="#ff7f0e"/>
<circle cx="521.25" cy="787.38" r="4.8" fill="#ff7f0e"/>
<circle cx="523.75" cy="783.02" r="4.8" fill="#ff7f0e"/>
<circle cx="525" cy="851.84" r="4.8" fill="#ff7f0e"/>
<circle cx="527.5" cy="830.26" r="4.8" fill="#ff7f0e"/>
<circle cx="529.25" cy="868.98" r="4.8" fill="#ff7f0e"/>
<circle cx="531.25" cy="966.31" r="4.8" fill="#ff7f0e"/>
<circle cx="533.25" cy="812.19" r="4.8" fill="#ff7f0e"/>
<circle cx="535.5" cy="783.02" r="4.8" fill="#ff7f0e"/>
<circle cx="537" cy="778.82" r="4.8" fill="#ff7f0e"/>
<circle cx="538.25" cy="791.92" r="4.8" fill="#ff7f0e"/>
<circle cx="540" cy="837" r="4.8" fill="#ff7f0e"/>
<circle cx="541.25" cy="830.26" r="4.8" fill="#ff7f0e"/>
<circle cx="545" cy="830.26" r="4.8" fill="#ff7f0e"/>
<circle cx="546.25" cy="946.04" r="4.8" fill="#ff7f0e"/>
<circle cx="548.75" cy="767.11" r="4.8" fill="#ff7f0e"/>
<circle cx="552.5" cy="759.93" r="4.8" fill="#ff7f0e"/>
<circle cx="554.25" cy="801.59" r="4.8" fill="#ff7f0e"/>
<circle cx="555" cy="770.88" r="4.8" fill="#ff7f0e"/>
<circle cx="557.5" cy="837" r="4.8" fill="#ff7f0e"/>
<circle cx="559.25" cy="928.9" r="4.8" fill="#ff7f0e"/>
<circle cx="561.5" cy="743.79" r="4.8" fill="#ff7f0e"/>
<circle cx="563.25" cy="724.53" r="4.8" fill="#ff7f0e"/>
<circle cx="565.5" cy="732.38" r="4.8" fill="#ff7f0e"/>
<circle cx="567.5" cy="774.78" r="4.8" fill="#ff7f0e"/>
<circle cx="569.25" cy="749.97" r="4.8" fill="#ff7f0e"/>
<circle cx="572" cy="749.97" r="4.8" fill="#ff7f0e"/>
<circle cx="573" cy="851.84" r="4.8" fill="#ff7f0e"/>
<circle cx="574.25" cy="796.65" r="4.8" fill="#ff7f0e"/>
<circle cx="576.75" cy="708.11" r="4.8" fill="#ff7f0e"/>
<circle cx="578.25" cy="722.03" r="4.8" fill="#ff7f0e"/>
<circle cx="580.25" cy="735.12" r="4.8" fill="#ff7f0e"/>
<circle cx="582" cy="851.84" r="4.8" fill="#ff7f0e"/>
<circle cx="584.25" cy="823.9" r="4.8" fill="#ff7f0e"/>
<circle cx="586.25" cy="778.82" r="4.8" fill="#ff7f0e"/>
<circle cx="588.25" cy="767.11" r="4.8" fill="#ff7f0e"/>
<circle cx="591.25" cy="778.82" r="4.8" fill="#ff7f0e"/>
<circle cx="592.5" cy="663.76" r="4.8" fill="#ff7f0e"/>
<circle cx="593.5" cy="642.52" r="4.8" fill="#ff7f0e"/>
<circle cx="595.5" cy="674.5" r="4.8" fill="#ff7f0e"/>
<circle cx="597.5" cy="791.92" r="4.8" fill="#ff7f0e"/>
<circle cx="599.25" cy="729.7" r="4.8" fill="#ff7f0e"/>
<circle cx="601.25" cy="1145.25" r="4.8" fill="#ff7f0e"/>
<circle cx="603.25" cy="629.96" r="4.8" fill="#ff7f0e"/>
<circle cx="605.75" cy="634.37" r="4.8" fill="#ff7f0e"/>
<circle cx="607.5" cy="662.31" r="4.8" fill="#ff7f0e"/>
<circle cx="609.25" cy="844.17" r="4.8" fill="#ff7f0e"/>
<circle cx="610.5" cy="1145.25" r="4.8" fill="#ff7f0e"/>
<circle cx="612.5" cy="695.75" r="4.8" fill="#ff7f0e"/>
<circle cx="614.25" cy="681.14" r="4.8" fill="#ff7f0e"/>
<circle cx="616.25" cy="669.77" r="4.8" fill="#ff7f0e"/>
<circle cx="618.25" cy="817.89" r="4.8" fill="#ff7f0e"/>
<circle cx="620.5" cy="627.83" r="4.8" fill="#ff7f0e"/>
<circle cx="622.5" cy="966.31" r="4.8" fill="#ff7f0e"/>
<circle cx="624.25" cy="648.73" r="4.8" fill="#ff7f0e"/>
<circle cx="626.25" cy="688.21" r="4.8" fill="#ff7f0e"/>
<circle cx="628.75" cy="966.31" r="4.8" fill="#ff7f0e"/>
<circle cx="629.5" cy="674.5" r="4.8" fill="#ff7f0e"/>
<circle cx="631.25" cy="812.19" r="4.8" fill="#ff7f0e"/>
<circle cx="633.25" cy="663.76" r="4.8" fill="#ff7f0e"/>
<circle cx="635" cy="889.25" r="4.8" fill="#ff7f0e"/>
<circle cx="637" cy="966.31" r="4.8" fill="#ff7f0e"/>
<circle cx="639.25" cy="946.04" r="4.8" fill="#ff7f0e"/>
<circle cx="642" cy="966.31" r="4.8" fill="#ff7f0e"/>
<circle cx="643.25" cy="668.24" r="4.8" fill="#ff7f0e"/>
<circle cx="645" cy="844.17" r="4.8" fill="#ff7f0e"/>
<circle cx="648" cy="668.24" r="4.8" fill="#ff7f0e"/>
<circle cx="648.25" cy="878.65" r="4.8" fill="#ff7f0e"/>
<circle cx="650" cy="705.95" r="4.8" fill="#ff7f0e"/>
<circle cx="652.5" cy="966.31" r="4.8" fill="#ff7f0e"/>
<circle cx="654.5" cy="708.11" r="4.8" fill="#ff7f0e"/>
<circle cx="656.25" cy="868.98" r="4.8" fill="#ff7f0e"/>
<circle cx="658" cy="679.45" r="4.8" fill="#ff7f0e"/>
<circle cx="660.5" cy="889.25" r="4.8" fill="#ff7f0e"/>
<circle cx="662.5" cy="682.87" r="4.8" fill="#ff7f0e"/>
<circle cx="664.5" cy="914.06" r="4.8" fill="#ff7f0e"/>
<circle cx="666.25" cy="837" r="4.8" fill="#ff7f0e"/>
<circle cx="667.5" cy="946.04" r="4.8" fill="#ff7f0e"/>
<circle cx="668.75" cy="647.46" r="4.8" fill="#ff7f0e"/>
<circle cx="671.25" cy="844.17" r="4.8" fill="#ff7f0e"/>
<circle cx="673.25" cy="791.92" r="4.8" fill="#ff7f0e"/>
<circle cx="675.5" cy="878.65" r="4.8" fill="#ff7f0e"/>
<circle cx="677.5" cy="674.5" r="4.8" fill="#ff7f0e"/>
<circle cx="679.25" cy="928.9" r="4.8" fill="#ff7f0e"/>
<circle cx="681.25" cy="946.04" r="4.8" fill="#ff7f0e"/>
<circle cx="683.75" cy="860.08" r="4.8" fill="#ff7f0e"/>
<circle cx="684.5" cy="677.77" r="4.8" fill="#ff7f0e"/>
<circle cx="686.25" cy="697.71" r="4.8" fill="#ff7f0e"/>
<circle cx="688.25" cy="740.83" r="4.8" fill="#ff7f0e"/>
<circle cx="690.5" cy="860.08" r="4.8" fill="#ff7f0e"/>
<circle cx="691.25" cy="946.04" r="4.8" fill="#ff7f0e"/>
<circle cx="695" cy="946.04" r="4.8" fill="#ff7f0e"/>
<circle cx="696.25" cy="900.96" r="4.8" fill="#ff7f0e"/>
<circle cx="698.75" cy="860.08" r="4.8" fill="#ff7f0e"/>
<circle cx="700" cy="743.79" r="4.8" fill="#ff7f0e"/>
<circle cx="702" cy="710.31" r="4.8" fill="#ff7f0e"/>
<circle cx="703.25" cy="712.56" r="4.8" fill="#ff7f0e"/>
<circle cx="705.5" cy="878.65" r="4.8" fill="#ff7f0e"/>
<circle cx="707.5" cy="946.04" r="4.8" fill="#ff7f0e"/>
<circle cx="709.25" cy="851.84" r="4.8" fill="#ff7f0e"/>
<circle cx="710.75" cy="695.75" r="4.8" fill="#ff7f0e"/>
<circle cx="713.25" cy="691.91" r="4.8" fill="#ff7f0e"/>
<circle cx="715" cy="749.97" r="4.8" fill="#ff7f0e"/>
<circle cx="717.5" cy="729.7" r="4.8" fill="#ff7f0e"/>
<circle cx="719.5" cy="1145.25" r="4.8" fill="#ff7f0e"/>
<circle cx="721.25" cy="1023.11" r="4.8" fill="#ff7f0e"/>
<circle cx="722.5" cy="746.84" r="4.8" fill="#ff7f0e"/>
<circle cx="724.25" cy="767.11" r="4.8" fill="#ff7f0e"/>
<circle cx="726.25" cy="796.65" r="4.8" fill="#ff7f0e"/>
<circle cx="728.25" cy="774.78" r="4.8" fill="#ff7f0e"/>
<circle cx="730" cy="851.84" r="4.8" fill="#ff7f0e"/>
<circle cx="732" cy="1145.25" r="4.8" fill="#ff7f0e"/>
<circle cx="734.5" cy="1068.19" r="4.8" fill="#ff7f0e"/>
<circle cx="736.25" cy="778.82" r="4.8" fill="#ff7f0e"/>
<circle cx="738.25" cy="724.53" r="4.8" fill="#ff7f0e"/>
<circle cx="739.5" cy="837" r="4.8" fill="#ff7f0e"/>
<circle cx="741.5" cy="837" r="4.8" fill="#ff7f0e"/>
<circle cx="742.5" cy="1145.25" r="4.8" fill="#ff7f0e"/>
<circle cx="746.25" cy="1145.25" r="4.8" fill="#ff7f0e"/>
<circle cx="747.5" cy="735.12" r="4.8" fill="#ff7f0e"/>
<circle cx="749.5" cy="778.82" r="4.8" fill="#ff7f0e"/>
<circle cx="751.25" cy="837" r="4.8" fill="#ff7f0e"/>
<circle cx="753" cy="791.92" r="4.8" fill="#ff7f0e"/>
<circle cx="755.5" cy="783.02" r="4.8" fill="#ff7f0e"/>
<circle cx="757" cy="914.06" r="4.8" fill="#ff7f0e"/>
<circle cx="757.5" cy="1068.19" r="4.8" fill="#ff7f0e"/>
<circle cx="761.25" cy="1068.19" r="4.8" fill="#ff7f0e"/>
<circle cx="762.5" cy="778.82" r="4.8" fill="#ff7f0e"/>
<circle cx="763.75" cy="991.12" r="4.8" fill="#ff7f0e"/>
<circle cx="766.25" cy="746.84" r="4.8" fill="#ff7f0e"/>
<circle cx="768.25" cy="851.84" r="4.8" fill="#ff7f0e"/>
<circle cx="770.75" cy="991.12" r="4.8" fill="#ff7f0e"/>
<circle cx="772.5" cy="928.9" r="4.8" fill="#ff7f0e"/>
<circle cx="774.25" cy="1068.19" r="4.8" fill="#ff7f0e"/>
<circle cx="776.25" cy="844.17" r="4.8" fill="#ff7f0e"/>
<circle cx="777.5" cy="778.82" r="4.8" fill="#ff7f0e"/>
<circle cx="779.5" cy="812.19" r="4.8" fill="#ff7f0e"/>
<circle cx="780.5" cy="900.96" r="4.8" fill="#ff7f0e"/>
<circle cx="783.75" cy="914.06" r="4.8" fill="#ff7f0e"/>
<circle cx="783.75" cy="1023.11" r="4.8" fill="#ff7f0e"/>
<path d="M732 1145.25V597.25" stroke="#1f77b4" stroke-opacity="0.5" stroke-width="2.08" stroke-dasharray="7.71 3.33" fill="none"/>
</g>
<path d="M127.5 571.5v4.86M184.5 571.5v4.86M242.5 571.5v4.86M299.5 571.5v4.86M358.5 571.5v4.86M417.5 571.5v4.86M474.5 571.5v4.86M533.5 571.5v4.86M590.5 571.5v4.86M648.5 571.5v4.86M707.5 571.5v4.86M760.5 571.5v4.86M127.5 1145.5v4.86M184.5 1145.5v4.86M242.5 1145.5v4.86M299.5 1145.5v4.86M358.5 1145.5v4.86M417.5 1145.5v4.86M474.5 1145.5v4.86M533.5 1145.5v4.86M590.5 1145.5v4.86M648.5 1145.5v4.86M707.5 1145.5v4.86M760.5 1145.5v4.86" stroke="#000" stroke-width="1.11" fill="none"/>
<path d="M83.5 571.5v2.78M83.5 1145.5v2.78M96.5 571.5v2.78M96.5 1145.5v2.78M110.5 571.5v2.78M110.5 1145.5v2.78M123.5 571.5v2.78M123.5 1145.5v2.78M136.5 571.5v2.78M136.5 1145.5v2.78M149.5 571.5v2.78M149.5 1145.5v2.78M163.5 571.5v2.78M163.5 1145.5v2.78M176.5 571.5v2.78M176.5 1145.5v2.78M189.5 571.5v2.78M189.5 1145.5v2.78M203.5 571.5v2.78M203.5 1145.5v2.78M216.5 571.5v2.78M216.5 1145.5v2.78M229.5 571.5v2.78M229.5 1145.5v2.78M242.5 571.5v2.78M242.5 1145.5v2.78M256.5 571.5v2.78M256.5 1145.5v2.78M269.5 571.5v2.78M269.5 1145.5v2.78M282.5 571.5v2.78M282.5 1145.5v2.78M295.5 571.5v2.78M295.5 1145.5v2.78M309.5 571.5v2.78M309.5 1145.5v2.78M322.5 571.5v2.78M322.5 1145.5v2.78M335.5 571.5v2.78M335.5 1145.5v2.78M349.5 571.5v2.78M349.5 1145.5v2.78M362.5 571.5v2.78M362.5 1145.5v2.78M375.5 571.5v2.78M375.5 1145.5v2.78M388.5 571.5v2.78M388.5 1145.5v2.78M402.5 571.5v2.78M402.5 1145.5v2.78M415.5 571.5v2.78M415.5 1145.5v2.78M428.5 571.5v2.78M428.5 1145.5v2.78M442.5 571.5v2.78M442.5 1145.5v2.78M455.5 571.5v2.78M455.5 1145.5v2.78M468.5 571.5v2.78M468.5 1145.5v2.78M481.5 571.5v2.78M481.5 1145.5v2.78M495.5 571.5v2.78M495.5 1145.5v2.78M508.5 571.5v2.78M508.5 1145.5v2.78M521.5 571.5v2.78M521.5 1145.5v2.78M535.5 571.5v2.78M535.5 1145.5v2.78M548.5 571.5v2.78M548.5 1145.5v2.78M561.5 571.5v2.78M561.5 1145.5v2.78M574.5 571.5v2.78M574.5 1145.5v2.78M588.5 571.5v2.78M588.5 1145.5v2.78M601.5 571.5v2.78M601.5 1145.5v2.78M614.5 571.5v2.78M614.5 1145.5v2.78M628.5 571.5v2.78M628.5 1145.5v2.78M641.5 571.5v2.78M641.5 1145.5v2.78M654.5 571.5v2.78M654.5 1145.5v2.78M667.5 571.5v2.78M667.5 1145.5v2.78M681.5 571.5v2.78M681.5 1145.5v2.78M694.5 571.5v2.78M694.5 1145.5v2.78M707.5 571.5v2.78M707.5 1145.5v2.78M721.5 571.5v2.78M721.5 1145.5v2.78M734.5 571.5v2.78M734.5 1145.5v2.78M747.5 571.5v2.78M747.5 1145.5v2.78M760.5 571.5v2.78M760.5 1145.5v2.78M774.5 571.5v2.78M774.5 1145.5v2.78M74.5 571.5v4.86M785.5 571.5v4.86M74.5 1145.5v4.86M785.5 1145.5v4.86M74.5 406.5h-2.78M74.5 309.5h-2.78M74.5 241.5h-2.78M74.5 188.5h-2.78M74.5 144.5h-2.78M74.5 108.5h-2.78M74.5 76.5h-2.78M74.5 48.5h-2.78M74.5 1068.5h-2.78M74.5 1023.5h-2.78M74.5 991.5h-2.78M74.5 966.5h-2.78M74.5 946.5h-2.78M74.5 928.5h-2.78M74.5 914.5h-2.78M74.5 900.5h-2.78M74.5 812.5h-2.78M74.5 767.5h-2.78M74.5 735.5h-2.78M74.5 710.5h-2.78M74.5 690.5h-2.78M74.5 672.5h-2.78M74.5 658.5h-2.78M74.5 644.5h-2.78" stroke="#000" stroke-width="0.9" fill="none"/>
<path d="M74.5 571.5h-4.86M74.5 23.5h-4.86M74.5 1145.5h-4.86M74.5 889.5h-4.86M74.5 633.5h-4.86" stroke="#000" stroke-width="1.11" fill="none"/>
<rect x="74.5" y="23.5" width="711" height="548" fill="none" stroke="#000" stroke-width="1.11"/>
<rect x="74.5" y="597.5" width="711" height="548" fill="none" stroke="#000" stroke-width="1.11"/>
<text x="115.79" y="1166.2" font-size="13.89" textLength="22.43" lengthAdjust="spacingAndGlyphs">Apr</text>
<text x="170.44" y="1166.2" font-size="13.89" textLength="27.12" lengthAdjust="spacingAndGlyphs">May</text>
<text x="231.95" y="1166.2" font-size="13.89" textLength="20.1" lengthAdjust="spacingAndGlyphs">Jun</text>
<text x="291.42" y="1166.2" font-size="13.89" textLength="15.16" lengthAdjust="spacingAndGlyphs">Jul</text>
<text x="345.24" y="1166.2" font-size="13.89" textLength="25.52" lengthAdjust="spacingAndGlyphs">Aug</text>
<text x="404.71" y="1166.2" font-size="13.89" textLength="24.58" lengthAdjust="spacingAndGlyphs">Sep</text>
<text x="462.79" y="1166.2" font-size="13.89" textLength="22.42" lengthAdjust="spacingAndGlyphs">Oct</text>
<text x="520.24" y="1166.2" font-size="13.89" textLength="25.51" lengthAdjust="spacingAndGlyphs">Nov</text>
<text x="577.36" y="1166.2" font-size="13.89" textLength="25.28" lengthAdjust="spacingAndGlyphs">Dec</text>
<text x="636.89" y="1166.2" font-size="13.89" textLength="21.01" lengthAdjust="spacingAndGlyphs">Jan</text>
<text x="694.6" y="1166.2" font-size="13.89" textLength="24.19" lengthAdjust="spacingAndGlyphs">Feb</text>
<text x="747.7" y="1166.2" font-size="13.89" textLength="24.61" lengthAdjust="spacingAndGlyphs">Mar</text>
<text x="629.92" y="1181.8" font-size="13.89" textLength="35.75" lengthAdjust="spacingAndGlyphs">2021</text>
<text x="40.3" y="29.7" font-size="13.89" textLength="16.9" lengthAdjust="spacingAndGlyphs">10</text><text x="56.8" y="24.85" font-size="9.72">1</text>
<text x="40.3" y="577.7" font-size="13.89" textLength="16.9" lengthAdjust="spacingAndGlyphs">10</text><text x="56.8" y="572.85" font-size="9.72">0</text>
<text x="15.85" y="412.34" font-size="13.89">2</text><text x="26.95" y="412.34" font-size="13.89">×</text>
<text x="40.65" y="412.34" font-size="13.89">10</text><text x="58.65" y="407.49" font-size="9.72">0</text>
<text x="15.85" y="315.84" font-size="13.89">3</text><text x="26.95" y="315.84" font-size="13.89">×</text>
<text x="40.65" y="315.84" font-size="13.89">10</text><text x="58.65" y="310.99" font-size="9.72">0</text>
<text x="15.85" y="247.37" font-size="13.89">4</text><text x="26.95" y="247.37" font-size="13.89">×</text>
<text x="40.65" y="247.37" font-size="13.89">10</text><text x="58.65" y="242.52" font-size="9.72">0</text>
<text x="15.85" y="150.87" font-size="13.89">6</text><text x="26.95" y="150.87" font-size="13.89">×</text>
<text x="40.65" y="150.87" font-size="13.89">10</text><text x="58.65" y="146.02" font-size="9.72">0</text>
<text x="40.3" y="638.7" font-size="13.89" textLength="16.9" lengthAdjust="spacingAndGlyphs">10</text><text x="56.8" y="633.85" font-size="9.72">2</text>
<text x="40.3" y="895.7" font-size="13.89" textLength="16.9" lengthAdjust="spacingAndGlyphs">10</text><text x="56.8" y="890.85" font-size="9.72">1</text>
<text x="40.3" y="1151.7" font-size="13.89" textLength="16.9" lengthAdjust="spacingAndGlyphs">10</text><text x="56.8" y="1146.85" font-size="9.72">0</text>
<text x="397" y="36" font-size="16.67" text-anchor="middle">Iowa 28 days</text>
<rect x="350.6" y="539.6" width="157.7" height="24.6" rx="2.8" ry="2.8" fill="#fff" fill-opacity="0.8" stroke="#ccc" stroke-opacity="0.8" stroke-width="1.39"/>
<path d="M356.16 551.3h27.8" stroke="#1f77b4" stroke-width="2.08" stroke-linecap="square" fill="none"/>
<text x="395.06" y="556.2" font-size="13.89">daily confirmed</text>
<rect x="81.44" y="604.44" width="134.8" height="24.6" rx="2.8" ry="2.8" fill="#fff" fill-opacity="0.8" stroke="#ccc" stroke-opacity="0.8" stroke-width="1.39"/>
<path d="M86 615.14h27.8" stroke="#1f77b4" stroke-width="2.08" stroke-linecap="square" fill="none"/>
<text x="124.9" y="620.04" font-size="13.89">daily deaths</text>
</svg></body></html>
